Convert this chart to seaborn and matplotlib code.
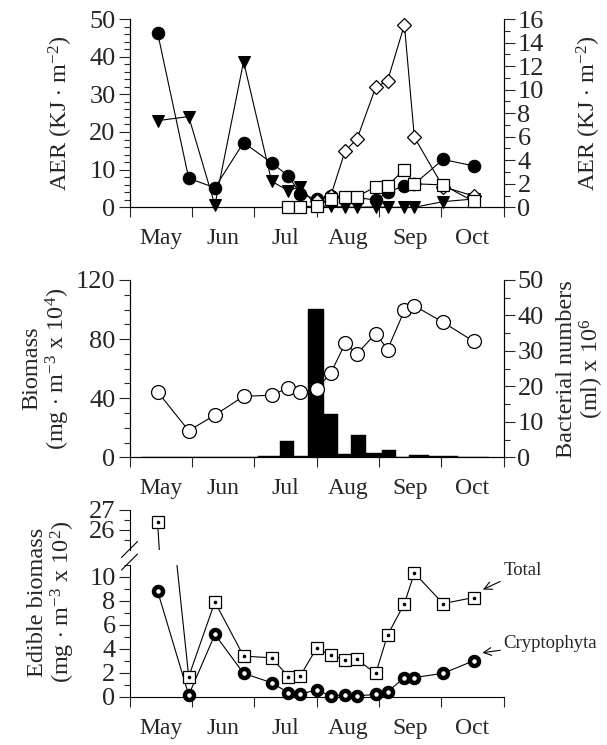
import numpy as np
import matplotlib
matplotlib.use("Agg")
import matplotlib.pyplot as plt
from matplotlib.lines import Line2D
from matplotlib.ticker import MultipleLocator, FixedLocator, NullFormatter, FixedFormatter
import seaborn as sns

sns.set_theme(style="ticks")
plt.rcParams['font.family'] = ['Liberation Serif', 'DejaVu Serif']
plt.rcParams['mathtext.fontset'] = 'custom'
plt.rcParams['mathtext.rm'] = 'Liberation Serif'
plt.rcParams['mathtext.it'] = 'Liberation Serif'
plt.rcParams['axes.linewidth'] = 0.8
plt.rcParams['axes.edgecolor'] = 'black'

# ---- data (x = months since 1 May) ----
months = ['May', 'Jun', 'Jul', 'Aug', 'Sep', 'Oct']
sample_month = [0.45, 0.95, 1.37, 1.83, 2.28, 2.55, 2.74, 3.0, 3.23, 3.46,
                3.65, 3.95, 4.14, 4.41, 4.57, 5.03, 5.52]

# top panel, left axis (AER)
aer_circle = [46.4, 7.7, 5.2, 17.2, 11.8, 8.3, 3.6, 2.1, 2.9, 2.6, 2.6,
              1.9, 4.0, 5.7, 6.2, 12.7, 11.0]
aer_triangle = [23.0, 24.1, 0.6, 38.7, 6.9, 4.4, 5.5, 0.3, 0.3, 0.0, 0.0,
                0.1, 0.0, 0.0, 0.0, 1.5, 2.2]
# top panel, right axis (AER)
square_month = [2.55, 2.74, 3.0, 3.23, 3.46, 3.65, 3.95, 4.14, 4.41, 4.57, 5.03, 5.52]
aer_square = [0.05, 0.05, 0.1, 0.7, 0.9, 0.9, 1.75, 1.85, 3.2, 2.0, 1.9, 0.5]
diamond_month = [3.0, 3.23, 3.46, 3.65, 3.95, 4.14, 4.41, 4.57, 5.03, 5.52]
aer_diamond = [0.5, 1.0, 4.8, 5.8, 10.2, 10.75, 15.5, 5.95, 1.75, 0.96]

# middle panel
biomass = [0, 0, 0, 0, 1.0, 11.3, 0.8, 100.7, 29.6, 2.2, 15.0, 3.2, 4.9,
           0, 1.6, 1.1, 0.5]
bacteria = [18.5, 7.5, 11.9, 17.2, 17.5, 19.6, 18.3, 19.2, 23.8, 32.1, 29.2,
            34.9, 30.4, 41.4, 42.7, 38.1, 32.7]

# bottom panel
edible_total = [26.4, 1.67, 7.92, 3.39, 3.25, 1.67, 1.75, 4.03, 3.47, 3.06,
                3.11, 1.94, 5.14, 7.78, 10.33, 7.78, 8.28]
cryptophyta = [8.83, 0.14, 5.2, 1.95, 1.17, 0.33, 0.22, 0.56, 0.06, 0.14,
               0.06, 0.2, 0.4, 1.6, 1.6, 1.95, 3.0]

FS_TICK = 19
FS_MONTH = 17
FS_LABEL = 17.5
W, H = 607, 745
fig = plt.figure(figsize=(W / 100, H / 100), dpi=100)


def frame(top_px, bottom_px):
    left, right = 129.5, 503.5
    return [left / W, 1 - bottom_px / H, (right - left) / W, (bottom_px - top_px) / H]


def month_axis(ax):
    ax.set_xlim(0, 6)
    ax.xaxis.set_major_locator(FixedLocator(range(7)))
    ax.xaxis.set_major_formatter(NullFormatter())
    ax.xaxis.set_minor_locator(FixedLocator([i + 0.5 for i in range(6)]))
    ax.xaxis.set_minor_formatter(FixedFormatter(months))
    ax.tick_params(axis='x', which='major', direction='out', length=7, width=0.8)
    ax.tick_params(axis='x', which='minor', length=0, pad=15, labelsize=FS_MONTH)


def y_ticks(ax, major, minor):
    ax.yaxis.set_major_locator(MultipleLocator(major))
    ax.yaxis.set_minor_locator(MultipleLocator(minor))
    ax.tick_params(axis='y', which='major', direction='out', length=8, width=0.8,
                   labelsize=FS_TICK, pad=2)
    ax.tick_params(axis='y', which='minor', direction='out', length=4, width=0.8)


line_kw = dict(color='black', lw=0.8, clip_on=False, zorder=3)

# ---------------- top panel ----------------
ax1 = fig.add_axes(frame(19, 207.3))
ax2 = ax1.twinx()
sns.lineplot(x=sample_month, y=aer_circle, ax=ax1, marker='o', markersize=9,
             markerfacecolor='black', markeredgecolor='black', **line_kw)
sns.lineplot(x=sample_month, y=aer_triangle, ax=ax1, marker='v', markersize=9,
             markerfacecolor='black', markeredgecolor='black', **line_kw)
sns.lineplot(x=diamond_month, y=aer_diamond, ax=ax2, marker='D', markersize=7.5,
             markerfacecolor='white', markeredgecolor='black', markeredgewidth=0.9, **line_kw)
sns.lineplot(x=square_month, y=aer_square, ax=ax2, marker='s', markersize=8,
             markerfacecolor='white', markeredgecolor='black', markeredgewidth=0.9, **line_kw)
ax1.set_ylim(0, 50)
ax2.set_ylim(0, 16)
month_axis(ax1)
y_ticks(ax1, 10, 2)
y_ticks(ax2, 2, 1)
ax1.spines['top'].set_visible(False)
ax2.spines['top'].set_visible(False)
ax1.set_ylabel(r'AER (KJ $\cdot$ m$^{-2}$)', fontsize=FS_LABEL)
ax2.set_ylabel(r'AER (KJ $\cdot$ m$^{-2}$)', fontsize=FS_LABEL, rotation=90)
ax1.yaxis.set_label_coords(-0.145, 0.5)
ax2.yaxis.set_label_coords(1.19, 0.5)

# ---------------- middle panel ----------------
ax3 = fig.add_axes(frame(280, 457.3))
ax4 = ax3.twinx()
d = np.array(sample_month)
mids = (d[1:] + d[:-1]) / 2
left_edge = np.concatenate([[2 * d[0] - mids[0]], mids])
right_edge = np.concatenate([mids, [2 * d[-1] - mids[-1]]])
ax3.bar(left_edge, biomass, width=right_edge - left_edge, align='edge',
        color='black', edgecolor='black', linewidth=0.3)
sns.lineplot(x=sample_month, y=bacteria, ax=ax4, marker='o', markersize=10,
             markerfacecolor='white', markeredgecolor='black', markeredgewidth=0.9,
             **line_kw)
ax3.set_ylim(0, 120)
ax4.set_ylim(0, 50)
month_axis(ax3)
y_ticks(ax3, 40, 10)
y_ticks(ax4, 10, 5)
ax3.spines['top'].set_visible(False)
ax4.spines['top'].set_visible(False)
ax3.set_ylabel('Biomass\n' + r'(mg $\cdot$ m$^{-3}$ x 10$^{4}$)', fontsize=FS_LABEL,
               linespacing=1.05)
ax4.set_ylabel('Bacterial numbers\n' + r'(ml) x 10$^{6}$', fontsize=FS_LABEL,
               rotation=90, linespacing=1.05)
ax3.yaxis.set_label_coords(-0.155, 0.5)
ax4.yaxis.set_label_coords(1.14, 0.5)

# ---------------- bottom panel (broken axis) ----------------
ax_up = fig.add_axes(frame(510, 550))
ax_lo = fig.add_axes(frame(565, 696.7))
sq_kw = dict(marker='s', markersize=8, markerfacecolor='white',
             markeredgecolor='black', markeredgewidth=0.9)
ring_kw = dict(marker='o', markersize=6.5, markerfacecolor='white',
               markeredgecolor='black', markeredgewidth=3.2)
for ax, lo, hi in [(ax_up, 25, 27), (ax_lo, 0, 11)]:
    sns.lineplot(x=sample_month, y=edible_total, ax=ax, color='black', lw=0.8)
    sns.lineplot(x=sample_month, y=cryptophyta, ax=ax, color='black', lw=0.8)
    tot = np.array(edible_total)
    cry = np.array(cryptophyta)
    m_t = (tot >= lo) & (tot <= hi)
    m_c = (cry >= lo) & (cry <= hi)
    ax.plot(d[m_t], tot[m_t], ls='none', clip_on=False, zorder=4, **sq_kw)
    ax.plot(d[m_t], tot[m_t], ls='none', marker='o', markersize=1.6, color='black',
            clip_on=False, zorder=5)
    ax.plot(d[m_c], cry[m_c], ls='none', clip_on=False, zorder=4, **ring_kw)
    ax.set_ylim(lo, hi)
    ax.set_xlim(0, 6)
    for s in ['top', 'right']:
        ax.spines[s].set_visible(False)

ax_up.spines['bottom'].set_visible(False)
ax_up.set_xticks([])
ax_up.yaxis.set_major_locator(FixedLocator([26, 27]))
ax_up.yaxis.set_minor_locator(FixedLocator([25.5, 26.5]))
ax_up.tick_params(axis='y', which='major', direction='out', length=8, width=0.8,
                  labelsize=FS_TICK, pad=2)
ax_up.tick_params(axis='y', which='minor', direction='out', length=4, width=0.8)
month_axis(ax_lo)
y_ticks(ax_lo, 2, 1)
ax_lo.yaxis.set_major_locator(FixedLocator([0, 2, 4, 6, 8, 10]))
ax_lo.set_ylabel('Edible biomass\n' + r'(mg $\cdot$ m$^{-3}$ x 10$^{2}$)',
                 fontsize=FS_LABEL, linespacing=1.05)
ax_lo.yaxis.set_label_coords(-0.14, 0.72)

# break marks on the left spine
for cy in (549.5, 562):
    fig.add_artist(Line2D([121.5 / W, 137.5 / W], [1 - (cy + 8) / H, 1 - (cy - 8) / H],
                          color='black', lw=0.8))

ax_lo.annotate('Total', xy=(5.67, 8.95), xytext=(6.0, 10.5), fontsize=13.5,
               va='center', ha='left', annotation_clip=False,
               arrowprops=dict(arrowstyle='->', color='black', lw=0.8,
                               shrinkA=0, shrinkB=0, mutation_scale=14))
ax_lo.annotate('Cryptophyta', xy=(5.66, 3.67), xytext=(6.0, 4.45), fontsize=13.5,
               va='center', ha='left', annotation_clip=False,
               arrowprops=dict(arrowstyle='->', color='black', lw=0.8,
                               shrinkA=0, shrinkB=0, mutation_scale=14))

fig.savefig('out.png', dpi=100)
